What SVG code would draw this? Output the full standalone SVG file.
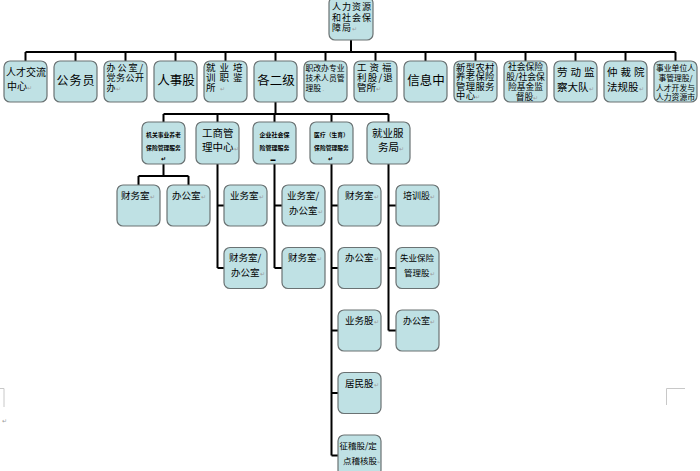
<svg xmlns="http://www.w3.org/2000/svg" width="700" height="471" viewBox="0 0 700 471">
<style>
.b{fill:#bfe1e4;stroke:#6a7273;stroke-width:1.2}
.c{stroke:#000;stroke-width:2;fill:none}
.t{font-family:"Noto Sans CJK SC","Noto Sans",sans-serif;fill:#000}
.m{text-anchor:middle}
.r{fill:#9a9a9a;font-size:6px}
.g{stroke:#c8c8c8;stroke-width:1;fill:none}
</style>
<rect width="700" height="471" fill="#fff"/>
<g id="connectors">
<path class="c" d="M351 40V52M25.5 52H675.5"/>
<path class="c" d="M25.5 52V61M75.5 52V61M125.5 52V61M175.5 52V61M225.5 52V61M275.5 52V61M325.5 52V61M375.5 52V61M425.5 52V61M475.5 52V61M525.5 52V61M575.5 52V61M625.5 52V61M675.5 52V61"/>
<path class="c" d="M275.5 102V114M163.5 114H388.5M163.5 114V122M217.5 114V122M274.5 114V122M331.5 114V122M388.5 114V122"/>
<path class="c" d="M163.5 164V176M138.5 176H188.5M138.5 176V185M188.5 176V185"/>
<path class="c" d="M217.5 164V268M217.5 205.5H224M217.5 268H224"/>
<path class="c" d="M274.5 164V268M274.5 205.5H282M274.5 268H282"/>
<path class="c" d="M331.5 164V455.5M331.5 205.5H338M331.5 268H338M331.5 330.5H338M331.5 393H338M331.5 455.5H338"/>
<path class="c" d="M388.5 164V330.5M388.5 205.5H396M388.5 268H396M388.5 330.5H396"/>
</g>
<g id="root"><rect class="b" x="329" y="-3" width="44" height="43" rx="6"/>
<text class="t" font-size="9" style="letter-spacing:1px"><tspan x="332" y="10">人力资源</tspan><tspan x="332" y="20.5">和社会保</tspan><tspan x="332" y="31">障局<tspan class="r">↵</tspan></tspan></text></g>
<g id="n1"><rect class="b" x="4" y="61" width="43" height="41" rx="6"/><text class="t" font-size="10"><tspan x="6" y="76">人才交流</tspan><tspan x="7" y="90">中心<tspan class="r">↵</tspan></tspan></text></g>
<g id="n2"><rect class="b" x="54" y="61" width="43" height="41" rx="6"/><text class="t m" font-size="12" x="76" y="85" style="letter-spacing:1px">公务员</text></g>
<g id="n3"><rect class="b" x="104" y="61" width="43" height="41" rx="6"/><text class="t" font-size="9"><tspan x="106.5" y="70.5" style="letter-spacing:2px">办公室/</tspan><tspan x="106.5" y="80.5" style="letter-spacing:0.5px">党务公开</tspan><tspan x="106.5" y="90.5">办<tspan class="r">↵</tspan></tspan></text></g>
<g id="n4"><rect class="b" x="154" y="61" width="43" height="41" rx="6"/><text class="t m" font-size="12.5" x="176" y="85">人事股</text></g>
<g id="n5"><rect class="b" x="204" y="61" width="43" height="41" rx="6"/><text class="t" font-size="9.5" style="letter-spacing:4px"><tspan x="206" y="71">就业培</tspan><tspan x="206" y="81">训职鉴</tspan><tspan x="206" y="91">所<tspan class="r">↵</tspan></tspan></text></g>
<g id="n6"><rect class="b" x="254" y="61" width="43" height="41" rx="6"/><text class="t m" font-size="12.5" x="276" y="85">各二级</text></g>
<g id="n7"><rect class="b" x="304" y="61" width="43" height="41" rx="6"/><text class="t" font-size="7.8"><tspan x="305.5" y="71">职改办专业</tspan><tspan x="305.5" y="81">技术人员管</tspan><tspan x="305.5" y="91">理股<tspan class="r"> .</tspan></tspan></text></g>
<g id="n8"><rect class="b" x="354" y="61" width="43" height="41" rx="6"/><text class="t" font-size="9.5"><tspan x="357" y="71" style="letter-spacing:3px">工资福</tspan><tspan x="357" y="81" style="letter-spacing:1.2px">利股/退</tspan><tspan x="357" y="91">管所<tspan class="r">↵</tspan></tspan></text></g>
<g id="n9"><rect class="b" x="404" y="61" width="43" height="41" rx="6"/><text class="t m" font-size="12.5" x="426" y="85">信息中</text></g>
<g id="n10"><rect class="b" x="454" y="61" width="43" height="41" rx="6"/><text class="t" font-size="9.3" style="letter-spacing:0.4px"><tspan x="456" y="70.5">新型农村</tspan><tspan x="456" y="80">养老保险</tspan><tspan x="456" y="89.5">管理服务</tspan><tspan x="456" y="99">中心<tspan class="r">↵</tspan></tspan></text></g>
<g id="n11"><rect class="b" x="504" y="61" width="43" height="41" rx="6"/><text class="t m" font-size="8.8"><tspan x="525.5" y="70">社会保险</tspan><tspan x="525.5" y="80">股/社会保</tspan><tspan x="525.5" y="90">险基金监</tspan><tspan x="527" y="100">督股<tspan class="r">↵</tspan></tspan></text></g>
<g id="n12"><rect class="b" x="554" y="61" width="43" height="41" rx="6"/><text class="t" font-size="10.5"><tspan x="557" y="76" style="letter-spacing:3px">劳动监</tspan><tspan x="557" y="91">察大队<tspan class="r">↵</tspan></tspan></text></g>
<g id="n13"><rect class="b" x="604" y="61" width="43" height="41" rx="6"/><text class="t" font-size="10.5"><tspan x="607" y="76" style="letter-spacing:3px">仲裁院</tspan><tspan x="607" y="91">法规股<tspan class="r">↵</tspan></tspan></text></g>
<g id="n14"><rect class="b" x="654" y="61" width="43" height="41" rx="6"/><text class="t m" font-size="7.8"><tspan x="675.5" y="71">事业单位人</tspan><tspan x="675.5" y="80.8">事管理股/</tspan><tspan x="675.5" y="90.5">人才开发与</tspan><tspan x="675.5" y="100">人力资源市</tspan></text></g>
<g id="l2a"><rect class="b" x="142" y="122" width="43" height="42" rx="6"/><text class="t m" font-size="5.8" font-weight="bold"><tspan x="163.5" y="137">机关事业养老</tspan><tspan x="163.5" y="150">保险管理服务</tspan><tspan x="163" y="161">↵</tspan></text></g>
<g id="l2b"><rect class="b" x="196" y="122" width="43" height="42" rx="6"/><text class="t" font-size="10.5"><tspan x="202" y="137">工商管</tspan><tspan x="202" y="151">理中心<tspan class="r">↵</tspan></tspan></text></g>
<g id="l2c"><rect class="b" x="253" y="122" width="43" height="42" rx="6"/><text class="t m" font-size="6" font-weight="bold"><tspan x="274.5" y="137">企业社会保</tspan><tspan x="274.5" y="150">险管理服务</tspan><tspan x="273" y="161" font-size="5">▬</tspan></text></g>
<g id="l2d"><rect class="b" x="310" y="122" width="43" height="42" rx="6"/><text class="t m" font-size="5.8" font-weight="bold"><tspan x="331.5" y="137">医疗（生育）</tspan><tspan x="331.5" y="150">保险管理服务</tspan><tspan x="330" y="161">↵</tspan></text></g>
<g id="l2e"><rect class="b" x="367" y="122" width="43" height="42" rx="6"/><text class="t" font-size="10.5"><tspan x="372" y="137">就业服</tspan><tspan x="378" y="151">务局<tspan class="r">↵</tspan></tspan></text></g>
<g id="a1"><rect class="b" x="117" y="185" width="43" height="41" rx="6"/><text class="t" font-size="9.5" x="121" y="199">财务室<tspan class="r">↵</tspan></text></g>
<g id="a2"><rect class="b" x="167" y="185" width="43" height="41" rx="6"/><text class="t" font-size="9.5" x="172" y="199">办公室<tspan class="r">↵</tspan></text></g>
<g id="b1"><rect class="b" x="224" y="185" width="43" height="41" rx="6"/><text class="t" font-size="9.5" x="230" y="199">业务室<tspan class="r">↵</tspan></text></g>
<g id="b2"><rect class="b" x="224" y="247.5" width="43" height="41" rx="6"/><text class="t" font-size="9.5"><tspan x="229" y="261">财务室/</tspan><tspan x="231" y="276">办公室<tspan class="r">↵</tspan></tspan></text></g>
<g id="c1"><rect class="b" x="282" y="185" width="43" height="41" rx="6"/><text class="t" font-size="9.5"><tspan x="287" y="199">业务室/</tspan><tspan x="289" y="214">办公室<tspan class="r">↵</tspan></tspan></text></g>
<g id="c2"><rect class="b" x="282" y="247.5" width="43" height="41" rx="6"/><text class="t" font-size="9.5" x="288" y="261">财务室<tspan class="r">↵</tspan></text></g>
<g id="d1"><rect class="b" x="338" y="185" width="43" height="41" rx="6"/><text class="t" font-size="9.5" x="345" y="199">财务室<tspan class="r">↵</tspan></text></g>
<g id="d2"><rect class="b" x="338" y="247.5" width="43" height="41" rx="6"/><text class="t" font-size="9.5" x="345" y="261">办公室<tspan class="r">↵</tspan></text></g>
<g id="d3"><rect class="b" x="338" y="310" width="43" height="41" rx="6"/><text class="t" font-size="9.5" x="345" y="324">业务股<tspan class="r">↵</tspan></text></g>
<g id="d4"><rect class="b" x="338" y="372.5" width="43" height="41" rx="6"/><text class="t" font-size="9.5" x="345" y="386.5">居民股<tspan class="r">↵</tspan></text></g>
<g id="d5"><rect class="b" x="338" y="435" width="43" height="41" rx="6"/><text class="t" font-size="8.5"><tspan x="339.5" y="449">征稽股/定</tspan><tspan x="343" y="464">点稽核股<tspan class="r">↵</tspan></tspan></text></g>
<g id="e1"><rect class="b" x="396" y="185" width="43" height="41" rx="6"/><text class="t" font-size="9" x="403" y="199">培训股<tspan class="r">↵</tspan></text></g>
<g id="e2"><rect class="b" x="396" y="247.5" width="43" height="41" rx="6"/><text class="t" font-size="8.5"><tspan x="400" y="261">失业保险</tspan><tspan x="404" y="276">管理股<tspan class="r">↵</tspan></tspan></text></g>
<g id="e3"><rect class="b" x="396" y="310" width="43" height="41" rx="6"/><text class="t" font-size="9" x="403" y="324">办公室<tspan class="r">↵</tspan></text></g>
<path class="g" d="M0 388.5H4V407M685 388.5H666.5V405"/>
<text class="t r" x="2" y="423">↵</text>
</svg>
